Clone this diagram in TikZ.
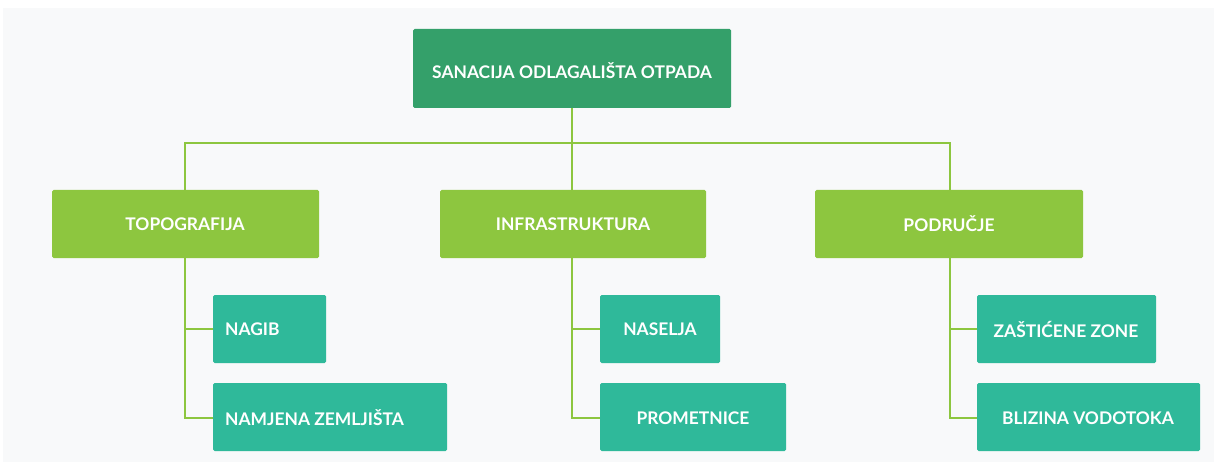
\documentclass[tikz,border=0pt]{standalone}
\usepackage{fontspec}
\setmainfont{Lato}
\definecolor{bg}{HTML}{F8F9FA}
\definecolor{topc}{HTML}{34A06A}
\definecolor{midc}{HTML}{8DC63F}
\definecolor{leafc}{HTML}{2FB99A}
\definecolor{linec}{HTML}{8DC63F}
\begin{document}
\begin{tikzpicture}[x=1pt,y=-1pt,
  box/.style={rounded corners=1.5pt, text=white, font=\fontsize{17.4}{20}\selectfont\bfseries, inner sep=0pt},
  conn/.style={draw=linec, line width=2.8pt}]
\useasboundingbox (0,0) rectangle (1214,462);
\fill[white] (0,0) rectangle (1214,462);
\fill[bg] (3,8) rectangle (1214,462);
% top
\fill[box,topc] (413,29) rectangle (731,108);
\node[box] (top) at (572,71) {SANACIJA ODLAGALIŠTA OTPADA};
\coordinate (topb) at (572,108);
% mid boxes
\fill[box,midc] (52,190) rectangle (319,258);
\fill[box,midc] (440,190) rectangle (706,258);
\fill[box,midc] (815,190) rectangle (1083,258);
\node[box] (topo) at (185,224) {TOPOGRAFIJA};
\node[box] (infra) at (573,224) {INFRASTRUKTURA};
\node[box] (podr) at (949,224) {PODRUČJE};
\coordinate (topoT) at (185,190);
\coordinate (infraT) at (572,190);
\coordinate (podrT) at (950,190);
\coordinate (topoB) at (185,258);
\coordinate (infraB) at (572,258);
\coordinate (podrB) at (950,258);
% leaves
\fill[box,leafc] (213,295) rectangle (326,363);
\fill[box,leafc] (213,383) rectangle (447,451);
\fill[box,leafc] (600,295) rectangle (720,363);
\fill[box,leafc] (600,383) rectangle (786,451);
\fill[box,leafc] (977,295) rectangle (1156,363);
\fill[box,leafc] (977,383) rectangle (1200,451);
\node[box, anchor=west] (nagib) at (225,329) {NAGIB};
\node[box, anchor=west] (namj) at (225,418) {NAMJENA ZEMLJIŠTA};
\node[box] (nas) at (660,329) {NASELJA};
\node[box] (prom) at (693,418) {PROMETNICE};
\node[box] (zast) at (1066,329) {ZAŠTIĆENE ZONE};
\node[box] (bliz) at (1088,418) {BLIZINA VODOTOKA};
\coordinate (nagibL) at (213,329);
\coordinate (namjL) at (213,418);
\coordinate (nasL) at (600,329);
\coordinate (promL) at (600,418);
\coordinate (zastL) at (977,329);
\coordinate (blizL) at (977,418);
% connectors
\coordinate (bus) at (572,143);
\draw[conn] (topb) -- (infraT);
\draw[conn] (topoT) |- (bus) -| (podrT);
\draw[conn] (topoB) |- (namjL);
\draw[conn] (topoB |- nagibL) -- (nagibL);
\draw[conn] (infraB) |- (promL);
\draw[conn] (infraB |- nasL) -- (nasL);
\draw[conn] (podrB) |- (blizL);
\draw[conn] (podrB |- zastL) -- (zastL);
\end{tikzpicture}
\end{document}
